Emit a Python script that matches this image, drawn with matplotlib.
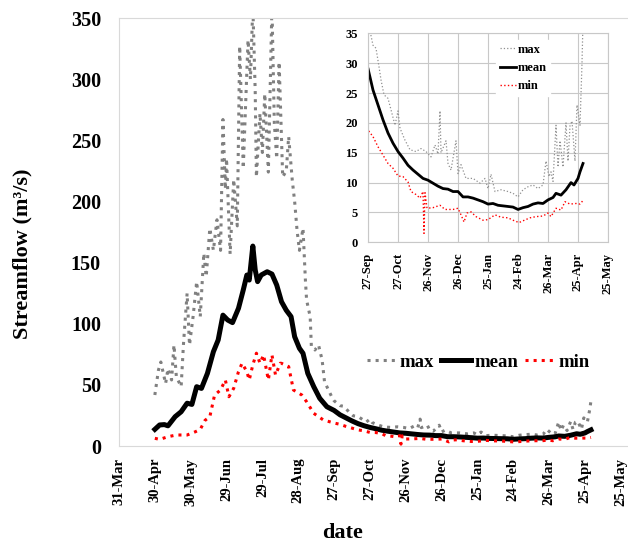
import numpy as np
import matplotlib
matplotlib.use("Agg")
import matplotlib.pyplot as plt

plt.rcParams['font.family'] = ['Liberation Serif', 'DejaVu Serif']
plt.rcParams['font.weight'] = 'bold'

START = np.datetime64('2001-04-30')

# days after 30-Apr and streamflow values
mean_days = [0, 4, 8, 11, 17, 22, 27, 31, 35, 39, 44, 49, 53, 57, 61, 65, 70, 74, 77, 79,
             82, 84, 86, 89, 94, 98, 102, 106, 110, 114, 117, 121, 124, 128, 133, 138, 144,
             150, 155, 160, 165, 170, 175, 180, 185, 190, 195, 200, 205, 210, 215, 220, 225,
             230, 235, 240, 245, 250, 255, 260, 265, 270, 275, 280, 285, 290, 295, 300, 305,
             310, 315, 320, 325, 330, 335, 338, 343, 348, 353, 356, 360, 362, 365]
mean_vals = [13.6, 17.2, 17.5, 16.5, 24, 28, 35, 34, 48.5, 47.1, 59.4, 77.1, 86.7, 107, 103,
             100.9, 112.6, 127.6, 139.8, 135.7, 163.5, 144, 134.4, 139.8, 142.5, 140.6, 131.6,
             118, 111, 105.8, 89.4, 79.9, 75.8, 59.4, 48.5, 39, 32.1,
             29.1, 25.5, 23, 20.5, 18.3, 16.6, 15.2, 14.1, 12.9, 12.1, 11.4, 10.7, 10.4, 9.9,
             9.4, 9.0, 8.9, 8.5, 8.5, 7.6, 7.6, 7.4, 7.1, 6.8, 6.4, 6.5, 6.2, 6.1, 6.0, 5.9,
             5.5, 5.8, 6.0, 6.4, 6.6, 6.5, 7.1, 7.5, 8.2, 7.9, 8.8, 10.0, 9.6, 10.7, 11.8, 13.2]

max_days = [0, 3, 5, 9, 11, 14, 16, 18, 22, 24, 27, 29, 32, 35, 38, 41, 43, 46, 49, 52,
            55, 57, 59, 60, 63, 66, 69, 71, 74, 76, 78, 80, 82, 84, 85, 88, 90, 92, 95, 98,
            100, 102, 104, 107, 110, 112, 115, 117, 119, 121, 124, 126, 127, 130, 131, 134,
            137, 140, 142, 148,
            150, 155, 158, 161, 163, 166, 170, 173, 177, 180, 182, 187, 192, 198, 203, 208,
            213, 217, 220, 222, 223, 228, 230, 233, 238, 240, 243, 248, 255, 262, 267, 270,
            273, 277, 283, 290, 295, 300, 305, 310, 315, 320, 325, 328, 331, 333, 335, 338,
            340, 342, 345, 348, 350, 352, 354, 357, 359, 362, 364, 365]
max_vals = [41.7, 62, 68.7, 51, 63.2, 54, 82.6, 56.7, 48.5, 84, 124.8, 82.6, 105.8, 134.4,
            105.8, 157.6, 138.5, 178, 160, 185, 160, 267, 210, 235, 157, 218, 180, 327, 227,
            280, 332, 300, 360, 290, 220, 272, 240, 288, 224, 360, 264, 235, 314, 220, 225,
            253, 217.5, 200, 176.6, 160, 178, 135.7, 119.4, 105.7, 81.2, 78.5, 82.6, 70.3,
            52.6, 40.3,
            37, 33, 32.5, 29.4, 27.2, 24.7, 24.1, 22.2, 19.6, 22, 19.1, 17.1, 15.5, 15.2,
            15.7, 15.2, 14.3, 16.3, 14.8, 22, 15, 17, 13.2, 12.1, 17, 11.5, 13, 10.7, 10.7,
            9.9, 10.7, 9.0, 11.4, 8.5, 8.8, 8.5, 8.2, 7.6, 8.8, 9.3, 9.6, 9.0, 9.6, 13.6,
            11.0, 11.8, 10.2, 19.6, 12.6, 17, 12.6, 20, 13.6, 19.5, 20.3, 13.6, 23, 19.6,
            30, 37]

min_days = [0, 4, 11, 18, 27, 34, 38, 42, 46, 50, 55, 59, 62, 66, 70, 73, 77, 79, 82, 85,
            88, 91, 95, 98, 101, 105, 106, 112, 116, 123, 127, 133, 141,
            150, 155, 160, 165, 170, 175, 180, 185, 190, 193, 198, 202, 205, 206, 207, 209,
            215, 222, 227, 235, 240, 243, 246, 249, 253, 258, 265, 270, 277, 283, 290, 295,
            301, 305, 312, 318, 325, 330, 333, 338, 343, 347, 352, 358, 362, 365]
min_vals = [6.3, 5.4, 7.6, 9, 9, 11.7, 13.6, 21, 23.9, 41.7, 45.8, 54, 40.3, 47.2, 60.8,
            67.7, 60.8, 54, 66.3, 75.9, 67.7, 74.5, 54, 74.5, 58, 67.7, 67.6, 64.9, 45.8,
            41.7, 36.2, 26.7, 21.3,
            18.8, 17.7, 16.0, 14.6, 13.2, 12.4, 11.1, 11.0, 10.1, 8.5, 8.0, 7.4, 8.5, 1.5,
            8.3, 5.7, 5.8, 6.2, 5.5, 5.5, 5.7, 4.6, 3.4, 4.9, 5.1, 4.3, 3.7, 3.8, 4.6, 4.2,
            4.1, 3.7, 3.3, 3.6, 4.1, 4.3, 4.4, 4.9, 4.3, 5.7, 5.4, 6.8, 6.4, 6.5, 6.4, 7.0]

main_ticks = np.arange(np.datetime64('2001-03-31'), np.datetime64('2002-05-26'), 30)
inset_ticks = np.arange(np.datetime64('2001-09-27'), np.datetime64('2002-05-26'), 30)


def date_labels(dates):
    out = []
    for d in dates:
        dt = d.astype(object)
        out.append(f"{dt.day}-{dt.strftime('%b')}")
    return out


def to_dates(days):
    return START + np.array(days, dtype='timedelta64[D]')


W, H = 628, 545
fig = plt.figure(figsize=(W / 100, H / 100), dpi=100)

# main chart
ax = fig.add_axes([119 / W, 1 - 446 / H, 1 - 119 / W, (446 - 18) / H])
ax.plot(to_dates(max_days), max_vals, color='#808080', lw=2.2, ls=':', label='max')
ax.plot(to_dates(mean_days), mean_vals, color='black', lw=3.6, label='mean')
ax.plot(to_dates(min_days), min_vals, color='red', lw=2.2, ls=':', label='min')
ax.set_xlim(np.datetime64('2001-03-31'), np.datetime64('2001-03-31') + 426)
ax.set_ylim(0, 350)
ax.set_yticks(range(0, 351, 50))
ax.set_xticks(main_ticks)
ax.set_xticklabels(date_labels(main_ticks), rotation=90, fontsize=10.5, fontweight='bold')
ax.tick_params(axis='y', length=0, labelsize=14.5, pad=13)
ax.tick_params(axis='x', length=0, pad=8.5)
for s in ['top', 'left', 'bottom']:
    ax.spines[s].set_color('#d9d9d9')
ax.spines['right'].set_visible(False)

ax.legend(ncol=3, loc='center', bbox_to_anchor=(478 / W, 1 - 362 / H),
          bbox_transform=fig.transFigure, frameon=False,
          prop={'weight': 'bold', 'size': 13.5}, handlelength=1.6,
          handletextpad=0.15, columnspacing=0.4)

fig.text(343 / W, 1 - 533 / H, 'date', ha='center', va='center', fontsize=16, fontweight='bold')
fig.text(22 / W, 1 - 254 / H, 'Streamflow (m³/s)', ha='center', va='center', rotation=90,
         fontsize=16, fontweight='bold')

# inset chart
ax2 = fig.add_axes([368 / W, 1 - 242.3 / H, 240 / W, (242.3 - 33.3) / H])
ax2.plot(to_dates(max_days), max_vals, color='#909090', lw=0.9, ls=':', label='max')
ax2.plot(to_dates(mean_days), mean_vals, color='black', lw=2.0, label='mean')
ax2.plot(to_dates(min_days), min_vals, color='red', lw=1.0, ls=':', label='min')
ax2.set_xlim(inset_ticks[0], inset_ticks[-1])
ax2.set_ylim(0, 35)
ax2.set_yticks(range(0, 36, 5))
ax2.set_xticks(inset_ticks)
ax2.set_xticklabels(date_labels(inset_ticks), rotation=90, fontsize=9, fontweight='bold')
ax2.tick_params(axis='y', length=0, labelsize=9, pad=7.5)
ax2.tick_params(axis='x', length=0, pad=7.5)
ax2.grid(True, color='#c8c8c8', lw=0.8)
ax2.set_axisbelow(True)
for s in ax2.spines.values():
    s.set_color('#c8c8c8')

leg2 = ax2.legend(loc='center', bbox_to_anchor=(523 / W, 1 - 68 / H),
                  bbox_transform=fig.transFigure, frameon=True,
                  prop={'weight': 'bold', 'size': 9}, handlelength=1.3,
                  handletextpad=0.1, labelspacing=0.5, borderpad=0.3, fancybox=False)
leg2.get_frame().set_facecolor('white')
leg2.get_frame().set_edgecolor('white')
leg2.get_frame().set_alpha(1)

fig.savefig('out.png', dpi=100)
